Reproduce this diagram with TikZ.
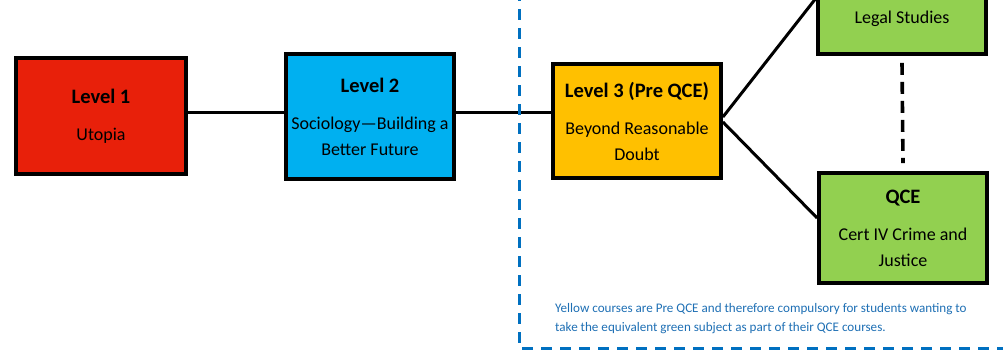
\documentclass[tikz,border=0pt]{standalone}
\usepackage{fontspec}
\setmainfont{Carlito}
\definecolor{lvred}{HTML}{E8200A}
\definecolor{lvblue}{HTML}{00B0F0}
\definecolor{lvyellow}{HTML}{FFC000}
\definecolor{lvgreen}{HTML}{92D050}
\definecolor{frameblue}{HTML}{0070C0}
\definecolor{noteblue}{HTML}{1E6FB4}
\tikzset{
  box/.style={draw=black, line width=3.8pt, rectangle, minimum width=168pt, align=center, inner sep=0pt,
    font=\fontsize{18}{26}\selectfont},
  conn/.style={draw=black, line width=3pt},
  linkdash/.style={draw=black, line width=3.6pt, dash pattern=on 12pt off 7pt},
  framedash/.style={draw=frameblue, line width=3pt, dash pattern=on 11pt off 8pt},
}
\newcommand{\ttl}[1]{{\bfseries\fontsize{20.5}{26}\selectfont #1}}
\begin{document}
\begin{tikzpicture}[x=1pt,y=-1pt]
\useasboundingbox (0,0) rectangle (1003,351);
\clip (0,0) rectangle (1003,351);
\node[box, fill=lvred, minimum width=170pt, minimum height=116pt] (l1) at (101,116) {\ttl{Level 1}\\[11pt] Utopia};
\node[box, fill=lvblue, minimum height=125pt] (l2) at (370,116.5) {\ttl{Level 2}\\[11pt] Sociology—Building a\\ Better Future};
\node[box, fill=lvyellow, minimum height=114pt] (l3) at (637,121) {\ttl{Level 3 (Pre QCE)}\\[11pt] Beyond Reasonable\\ Doubt};
\node[box, fill=lvgreen, minimum height=112pt] (legal) at (902,-2) {};
\node[font=\fontsize{18}{26}\selectfont] (legaltxt) at (902,19) {Legal Studies};
\node[box, fill=lvgreen, minimum height=110pt] (qce) at (903,228) {\ttl{QCE}\\[11pt] Cert IV Crime and\\ Justice};
\draw[conn] ([yshift=4pt]l1.east) -- ([yshift=4.5pt]l2.west);
\draw[conn] ([yshift=4.5pt]l2.east) -- ([yshift=9pt]l3.west);
\draw[conn] ([yshift=4pt]l3.east) -- (legal.west);
\draw[conn] ([yshift=-1pt]l3.east) -- ([yshift=10pt]qce.west);
\draw[linkdash] ([yshift=-7pt]legal.south) -- ([yshift=8pt]qce.north);
\coordinate (ftop) at (519,-10);
\coordinate (fcorner) at (519,348);
\coordinate (fright) at (1015,348);
\draw[framedash] (ftop) -- (fcorner) -- (fright);
\node[anchor=north west, align=left, text=noteblue, inner sep=0pt, font=\fontsize{13.1}{19}\selectfont] (note) at (555,303.5)
  {Yellow courses are Pre QCE and therefore compulsory for students wanting to\\ take the equivalent green subject as part of their QCE courses.};
\end{tikzpicture}
\end{document}
